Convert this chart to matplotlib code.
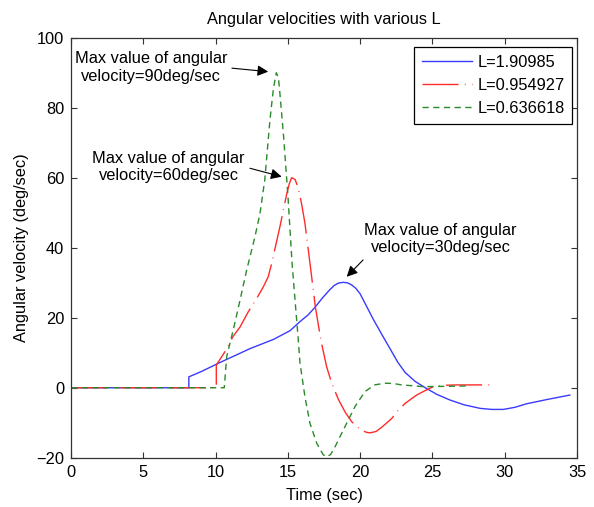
import numpy as np
import matplotlib
matplotlib.use('Agg')
import matplotlib.pyplot as plt

plt.rcParams['font.family'] = ['Liberation Sans', 'DejaVu Sans']
fs = 11.8

# dane
t_L1 = [0, 8.15, 8.15, 9.0, 10.3, 12.4, 14.0, 15.15, 15.84, 16.4, 16.9, 17.4, 17.9, 18.2, 18.5,
        18.8, 19.1, 19.4, 19.7, 20.0, 20.4, 20.9, 21.5, 22.1, 22.6, 23.1, 23.8, 24.5,
        25.3, 26.2, 27.2, 28.3, 29.1, 29.9, 30.7, 31.5, 33.0, 34.5]
w_L1 = [0, 0, 3.1, 4.6, 7.2, 11.2, 13.8, 16.3, 18.9, 20.8, 23.1, 25.7, 28.0, 29.2, 29.9,
        30.1, 30.0, 29.4, 28.4, 26.8, 23.6, 19.6, 15.2, 10.9, 7.3, 4.4, 1.8, 0.0,
        -1.9, -3.5, -4.9, -5.9, -6.2, -6.2, -5.6, -4.6, -3.3, -2.1]

t_L2 = [0, 10.05, 10.05, 10.65, 11.2, 11.7, 12.26, 12.84, 13.3, 13.64, 13.88, 14.15, 14.45,
        14.7, 14.9, 15.1, 15.26, 15.5, 15.72, 15.95, 16.18, 16.53, 16.9, 17.3, 17.68,
        18.03, 18.5, 18.95, 19.41, 19.8, 20.1, 20.4, 20.68, 21.1, 21.49, 22.18, 22.6,
        23.1, 23.9, 24.5, 25.06, 25.8, 26.7, 29.1]
w_L2 = [0, 0, 6.5, 10.3, 14.6, 17.4, 21.7, 25.5, 28.8, 31.7, 35.5, 40.5, 46,
        51, 55, 58.3, 60, 59.5, 57, 52.5, 47, 35.5, 23.1, 13.2, 6,
        1.3, -3.4, -6.9, -9.7, -11.2, -12.1, -12.7, -12.9, -12.5, -11.3, -8.8, -6.6,
        -4.5, -2.1, -0.8, 0.3, 0.7, 0.8, 0.8]

t_L3 = [0, 10.6, 10.77, 11.22, 11.69, 12.15, 12.72, 13.07, 13.4, 13.76, 14.0, 14.2, 14.35,
        14.45, 14.7, 15.0, 15.3, 15.72, 15.84, 16.18, 16.53, 17.0, 17.45, 17.68, 17.95,
        18.26, 18.95, 19.64, 20.33, 21.0, 21.7, 22.3, 22.87, 24.4, 27.4]
w_L3 = [0, 0, 8.9, 16.5, 25, 33.6, 43.1, 49.8, 59.3, 76.5, 85.5, 90, 88.5,
        84, 72, 55, 35, 13.6, 7, -2.6, -10.2, -15.9, -19.2, -19.7, -19.1,
        -16.9, -11.1, -5.4, -1.1, 0.8, 1.3, 1.2, 0.8, 0.3, 0.5]

etykiety = ['L=1.90985', 'L=0.954927', 'L=0.636618']

fig = plt.figure(figsize=(5.94, 5.07), dpi=100)
ax = fig.add_axes([0.1195, 0.0972, 0.852, 0.8284])

ax.plot(t_L1, w_L1, color='#3a3aff', lw=1.0, ls='-', label=etykiety[0])
ax.plot(t_L2, w_L2, color='#ff2a2a', lw=1.0, ls=(0, (26, 4.5, 0.6, 4.5)), label=etykiety[1])
ax.plot(t_L3, w_L3, color='#2a8a2a', lw=1.0, ls=(0, (4.5, 3.2)), label=etykiety[2])

ax.set_xlim(0, 35)
ax.set_ylim(-20, 100)
ax.set_xticks(np.arange(0, 36, 5))
ax.set_yticks(np.arange(-20, 101, 20))
ax.tick_params(direction='in', top=True, right=True, length=4.5, width=0.8,
               color='#333333', labelsize=fs, pad=5)
for s in ax.spines.values():
    s.set_color('#333333')
    s.set_linewidth(0.9)

ax.set_title('Angular velocities with various L', fontsize=fs, pad=10)
ax.set_xlabel('Time (sec)', fontsize=fs, labelpad=6)
ax.set_ylabel('Angular velocity (deg/sec)', fontsize=fs, labelpad=5)

leg = ax.legend(loc='upper right', bbox_to_anchor=(0.99, 0.977), borderaxespad=0,
                fancybox=False, framealpha=1, edgecolor='black', handlelength=3.1,
                handletextpad=0.3, labelspacing=0.5, borderpad=0.45, fontsize=fs)
leg.get_frame().set_linewidth(0.9)

# adnotacje
strzalka = dict(arrowstyle='-|>', color='black', lw=0.8, mutation_scale=16,
                shrinkA=0, shrinkB=0)
ax.text(5.53, 91.5, 'Max value of angular\nvelocity=90deg/sec', ha='center', va='center', fontsize=fs)
ax.annotate('', xy=(13.64, 90.3), xytext=(11.13, 91.3), arrowprops=strzalka)
ax.text(6.74, 63.0, 'Max value of angular\nvelocity=60deg/sec', ha='center', va='center', fontsize=fs)
ax.annotate('', xy=(14.57, 60.3), xytext=(12.38, 62.7), arrowprops=strzalka)
ax.text(25.55, 42.5, 'Max value of angular\nvelocity=30deg/sec', ha='center', va='center', fontsize=fs)
ax.annotate('', xy=(19.07, 31.7), xytext=(20.2, 36.5), arrowprops=strzalka)

fig.savefig('out.png', dpi=100)
